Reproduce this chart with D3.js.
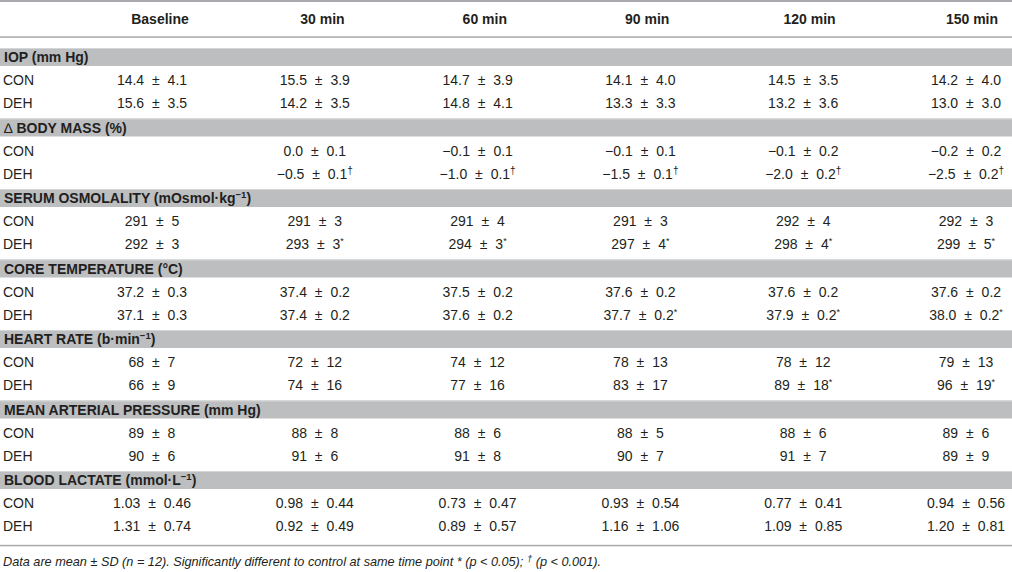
<!DOCTYPE html>
<html><head><meta charset="utf-8">
<script src="https://cdn.jsdelivr.net/npm/d3@7"></script>
<style>
html,body{margin:0;padding:0;background:#fff;}
text{font-family:"Liberation Sans",Arial,Helvetica,sans-serif;fill:#231f20;}
</style></head>
<body><svg id="chart" width="1012" height="572"></svg>
<script>
// ---- data ----
const columns = ["Baseline","30 min","60 min","90 min","120 min","150 min"];
const groups = ["IOP (mm Hg)","BODY MASS (%)","SERUM OSMOLALITY (mOsmol·kg","CORE TEMPERATURE (°C)","HEART RATE (b·min","MEAN ARTERIAL PRESSURE (mm Hg)","BLOOD LACTATE (mmol·L"];
const groupPrefix = ["", "∆ ", "", "", "", "", ""];
const groupSup = ["", "", "−1", "", "−1", "", "−1"];
const groupSuffix = ["", "", ")", "", ")", "", ")"];
const conditions = ["CON","DEH"];
const decimals = [1,1,0,1,0,0,2];

const iopConMean = [14.4,15.5,14.7,14.1,14.5,14.2];
const iopConSD   = [4.1,3.9,3.9,4.0,3.5,4.0];
const iopDehMean = [15.6,14.2,14.8,13.3,13.2,13.0];
const iopDehSD   = [3.5,3.5,4.1,3.3,3.6,3.0];

const bmConMean = [null,0.0,-0.1,-0.1,-0.1,-0.2];
const bmConSD   = [null,0.1,0.1,0.1,0.2,0.2];
const bmDehMean = [null,-0.5,-1.0,-1.5,-2.0,-2.5];
const bmDehSD   = [null,0.1,0.1,0.1,0.2,0.2];
const bmDehMark = ["","†","†","†","†","†"];

const soConMean = [291,291,291,291,292,292];
const soConSD   = [5,3,4,3,4,3];
const soDehMean = [292,293,294,297,298,299];
const soDehSD   = [3,3,3,4,4,5];
const soDehMark = ["","*","*","*","*","*"];

const ctConMean = [37.2,37.4,37.5,37.6,37.6,37.6];
const ctConSD   = [0.3,0.2,0.2,0.2,0.2,0.2];
const ctDehMean = [37.1,37.4,37.6,37.7,37.9,38.0];
const ctDehSD   = [0.3,0.2,0.2,0.2,0.2,0.2];
const ctDehMark = ["","","","*","*","*"];

const hrConMean = [68,72,74,78,78,79];
const hrConSD   = [7,12,12,13,12,13];
const hrDehMean = [66,74,77,83,89,96];
const hrDehSD   = [9,16,16,17,18,19];
const hrDehMark = ["","","","","*","*"];

const mapConMean = [89,88,88,88,88,89];
const mapConSD   = [8,8,6,5,6,6];
const mapDehMean = [90,91,91,90,91,89];
const mapDehSD   = [6,6,8,7,7,9];

const blConMean = [1.03,0.98,0.73,0.93,0.77,0.94];
const blConSD   = [0.46,0.44,0.47,0.54,0.41,0.56];
const blDehMean = [1.31,0.92,0.89,1.16,1.09,1.20];
const blDehSD   = [0.74,0.49,0.57,1.06,0.85,0.81];

const noMark = ["","","","","",""];
const tableData = [
  [[iopConMean,iopConSD,noMark],[iopDehMean,iopDehSD,noMark]],
  [[bmConMean,bmConSD,noMark],[bmDehMean,bmDehSD,bmDehMark]],
  [[soConMean,soConSD,noMark],[soDehMean,soDehSD,soDehMark]],
  [[ctConMean,ctConSD,noMark],[ctDehMean,ctDehSD,ctDehMark]],
  [[hrConMean,hrConSD,noMark],[hrDehMean,hrDehSD,hrDehMark]],
  [[mapConMean,mapConSD,noMark],[mapDehMean,mapDehSD,noMark]],
  [[blConMean,blConSD,noMark],[blDehMean,blDehSD,noMark]]
];

// ---- layout ----
const W = 1012;
const svg = d3.select("#chart");
const xVal = d3.scaleLinear().domain([0,5]).range([152,966]);
const xHead = d3.scaleLinear().domain([0,5]).range([160,972]);
const yGroup = d3.scaleLinear().domain([0,6]).range([48,471]);   // band tops
const bandH = 18;
const rowOff = [32, 55];
const lineColor = "#a7a9ac";
const bandColor = "#bcbec0";

svg.append("rect").attr("x",0).attr("y",0).attr("width",W).attr("height",2).attr("fill",lineColor);
svg.append("rect").attr("x",0).attr("y",36.3).attr("width",W).attr("height",1.5).attr("fill",lineColor);
svg.append("rect").attr("x",0).attr("y",544.8).attr("width",W).attr("height",1.5).attr("fill",lineColor);

svg.selectAll("text.head").data(columns).join("text")
  .attr("class","head")
  .attr("x",(d,i)=>xHead(i)).attr("y",23.5)
  .attr("text-anchor","middle")
  .attr("font-size",14).attr("font-weight","bold")
  .text(d=>d);

const fmt = d => d3.format("."+d+"f");
const minus = s => s.replace("-","−");

groups.forEach((g,gi)=>{
  const yt = yGroup(gi);
  svg.append("rect").attr("x",0).attr("y",yt).attr("width",W).attr("height",bandH).attr("fill",bandColor);
  svg.append("rect").attr("x",0).attr("y",yt).attr("width",W).attr("height",1).attr("fill","#d4d5d6");
  const t = svg.append("text").attr("x",4).attr("y",yt+bandH/2+5).attr("font-size",14).attr("font-weight","bold");
  if(groupPrefix[gi]) t.append("tspan").attr("font-weight","normal").text(groupPrefix[gi]);
  t.append("tspan").text(g);
  if(groupSup[gi]) t.append("tspan").attr("font-size",9.5).attr("dy",-5).text(groupSup[gi]);
  if(groupSuffix[gi]) t.append("tspan").attr("dy",groupSup[gi]?5:0).text(groupSuffix[gi]);

  conditions.forEach((c,ci)=>{
    const yr = yt + rowOff[ci];
    svg.append("text").attr("x",3).attr("y",yr+5).attr("font-size",14).text(c);
    const [means,sds,marks] = tableData[gi][ci];
    const f = fmt(decimals[gi]);
    const cells = svg.append("g").selectAll("text").data(means.map((m,i)=>({m,s:sds[i],k:marks[i],i})).filter(d=>d.m!==null)).join("text")
      .attr("x",d=>xVal(d.i)).attr("y",yr+5)
      .attr("text-anchor","middle").attr("font-size",14)
      .attr("word-spacing",4);
    cells.append("tspan").text(d=>minus(f(d.m))+" ± "+f(d.s));
    cells.filter(d=>d.k).append("tspan").attr("dy",-5).attr("font-size",d=>d.k==="*"?9:10).text(d=>d.k);
  });
});

const fn = svg.append("text").attr("x",3).attr("y",565.5).attr("font-size",12.7).attr("font-style","italic");
fn.append("tspan").text("Data are mean ± SD (n = 12). Significantly different to control at same time point * (p < 0.05); ");
fn.append("tspan").attr("dy",-4).attr("font-size",9.5).text("†");
fn.append("tspan").attr("dy",4).text(" (p < 0.001).");
</script></body></html>
